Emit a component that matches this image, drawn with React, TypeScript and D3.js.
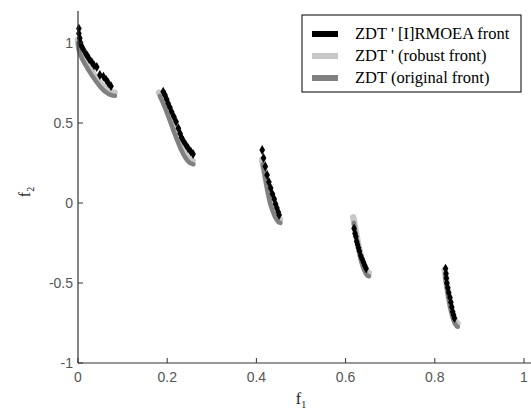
import * as d3 from "d3";

const W = 531;
const H = 416;

const xTicks = [0, 0.2, 0.4, 0.6, 0.8, 1];
const yTicks = [-1, -0.5, 0, 0.5, 1];
const xTickLabels = ["0", "0.2", "0.4", "0.6", "0.8", "1"];
const yTickLabels = ["-1", "-0.5", "0", "0.5", "1"];

const legendLabels = ["ZDT ' [I]RMOEA front", "ZDT ' (robust front)", "ZDT (original front)"];
const legendColors = ["#000000", "#c8c8c8", "#808080"];

type Pt = [number, number];

// ZDT original front, one list per disconnected piece
const originalFront: Pt[][] = [
  [[0, 1], [0.002, 0.955], [0.005, 0.928], [0.01, 0.897], [0.015, 0.871], [0.02, 0.847], [0.03, 0.802], [0.04, 0.762], [0.05, 0.726], [0.06, 0.698], [0.07, 0.679], [0.077, 0.672], [0.083, 0.67]],
  [[0.1832, 0.669], [0.186, 0.654], [0.191, 0.623], [0.196, 0.589], [0.201, 0.553], [0.206, 0.515], [0.211, 0.477], [0.216, 0.439], [0.221, 0.402], [0.226, 0.367], [0.231, 0.334], [0.236, 0.306], [0.241, 0.282], [0.246, 0.263], [0.251, 0.25], [0.2588, 0.242]],
  [[0.4143, 0.242], [0.419, 0.167], [0.423, 0.105], [0.427, 0.048], [0.431, -0.004], [0.436, -0.047], [0.441, -0.082], [0.446, -0.107], [0.45, -0.121], [0.4539, -0.124]],
  [[0.6184, -0.124], [0.622, -0.185], [0.626, -0.248], [0.63, -0.303], [0.635, -0.363], [0.64, -0.409], [0.645, -0.44], [0.65, -0.456], [0.6525, -0.458]],
  [[0.8233, -0.458], [0.826, -0.511], [0.83, -0.583], [0.835, -0.658], [0.84, -0.715], [0.845, -0.754], [0.85, -0.772], [0.8518, -0.773]],
];

// ZDT' robust front
const robustFront: Pt[][] = [
  [[0, 1.02], [0.002, 0.975], [0.005, 0.948], [0.01, 0.917], [0.015, 0.89], [0.02, 0.867], [0.03, 0.822], [0.04, 0.782], [0.05, 0.746], [0.06, 0.718], [0.07, 0.699], [0.077, 0.692], [0.082, 0.689]],
  [[0.182, 0.69], [0.186, 0.674], [0.191, 0.643], [0.196, 0.609], [0.201, 0.573], [0.206, 0.535], [0.211, 0.497], [0.216, 0.459], [0.221, 0.422], [0.226, 0.387], [0.231, 0.354], [0.236, 0.326], [0.241, 0.302], [0.246, 0.283], [0.251, 0.27], [0.257, 0.263]],
  [[0.413, 0.27], [0.419, 0.187], [0.423, 0.125], [0.427, 0.068], [0.431, 0.016], [0.436, -0.027], [0.441, -0.062], [0.446, -0.087], [0.45, -0.101], [0.453, -0.104]],
  [[0.617, -0.09], [0.6184, -0.104], [0.622, -0.165], [0.626, -0.228], [0.63, -0.283], [0.635, -0.343], [0.64, -0.389], [0.645, -0.42], [0.65, -0.436], [0.652, -0.438]],
  [[0.822, -0.42], [0.8233, -0.438], [0.826, -0.491], [0.83, -0.563], [0.835, -0.638], [0.84, -0.695], [0.845, -0.734], [0.85, -0.752], [0.851, -0.753]],
];

// ZDT' [I]RMOEA solutions
const rmoeaFront: Pt[] = [
  [0.002, 1.09], [0.002, 1.06], [0.004, 1.03], [0.006, 1.0], [0.008, 0.98], [0.012, 0.96], [0.018, 0.93], [0.021, 0.92], [0.025, 0.9], [0.031, 0.88], [0.036, 0.86], [0.042, 0.85], [0.049, 0.8], [0.057, 0.79], [0.063, 0.77], [0.068, 0.75], [0.074, 0.73],
  [0.191, 0.696], [0.195, 0.675], [0.199, 0.648], [0.202, 0.623], [0.206, 0.598], [0.21, 0.57], [0.215, 0.539], [0.22, 0.508], [0.225, 0.467], [0.229, 0.435], [0.232, 0.41], [0.236, 0.389], [0.242, 0.363], [0.247, 0.342], [0.253, 0.321], [0.258, 0.306],
  [0.413, 0.331], [0.416, 0.281], [0.42, 0.228], [0.424, 0.175], [0.428, 0.131], [0.432, 0.094], [0.436, 0.056], [0.44, 0.025], [0.443, -0.006], [0.446, -0.031], [0.449, -0.056], [0.451, -0.075],
  [0.619, -0.16], [0.621, -0.19], [0.623, -0.21], [0.625, -0.24], [0.627, -0.26], [0.629, -0.28], [0.631, -0.3], [0.634, -0.33], [0.637, -0.35], [0.64, -0.37], [0.643, -0.39], [0.646, -0.41],
  [0.824, -0.41], [0.825, -0.44], [0.826, -0.47], [0.827, -0.5], [0.829, -0.53], [0.831, -0.56], [0.834, -0.59], [0.836, -0.62], [0.838, -0.65], [0.84, -0.68], [0.842, -0.7], [0.844, -0.72],
];

export default function App() {
  const x = d3.scaleLinear([0, 1], [78, 524]);
  const y = d3.scaleLinear([-1, 1.2], [363, 11]);
  const line = d3
    .line<Pt>()
    .x((d) => x(d[0]))
    .y((d) => y(d[1]));
  const diamond = d3.symbol(d3.symbolDiamond, 28)();
  const axisColor = "#333";
  const tickFont = "'Liberation Sans', Arial, sans-serif";
  const serif = "'Liberation Serif', 'Times New Roman', serif";

  return (
    <svg width={W} height={H} style={{ position: "absolute", left: 0, top: 0, background: "#fff" }}>
      {robustFront.map((seg, i) => (
        <path key={"r" + i} d={line(seg) ?? ""} fill="none" stroke={legendColors[1]} strokeWidth={6.5} strokeLinecap="round" strokeLinejoin="round" />
      ))}
      {originalFront.map((seg, i) => (
        <path key={"o" + i} d={line(seg) ?? ""} fill="none" stroke={legendColors[2]} strokeWidth={4.5} strokeLinecap="round" strokeLinejoin="round" />
      ))}
      {rmoeaFront.map((d, i) => (
        <path key={"b" + i} d={diamond ?? ""} transform={`translate(${x(d[0])},${y(d[1])})`} fill="#000" />
      ))}

      {/* axes */}
      <line x1={x(0)} x2={W} y1={y(-1)} y2={y(-1)} stroke={axisColor} strokeWidth={1.2} />
      <line x1={x(0)} x2={x(0)} y1={y(-1)} y2={y(1.2)} stroke={axisColor} strokeWidth={1.2} />
      {xTicks.map((t, i) => (
        <g key={"xt" + i}>
          <line x1={x(t)} x2={x(t)} y1={y(-1)} y2={y(-1) - 5} stroke={axisColor} />
          <text x={x(t)} y={y(-1) + 19} textAnchor="middle" fontFamily={tickFont} fontSize={14} fill="#555">
            {xTickLabels[i]}
          </text>
        </g>
      ))}
      {yTicks.map((t, i) => (
        <g key={"yt" + i}>
          <line x1={x(0)} x2={x(0) + 5} y1={y(t)} y2={y(t)} stroke={axisColor} />
          <text x={x(0) - 5} y={y(t) + 5} textAnchor="end" fontFamily={tickFont} fontSize={14} fill="#555">
            {yTickLabels[i]}
          </text>
        </g>
      ))}

      {/* axis labels */}
      <text x={301} y={404} textAnchor="middle" fontFamily={serif} fontSize={16} fill="#222">
        f<tspan fontSize={10} dy={4}>1</tspan>
      </text>
      <text transform={`translate(30,192) rotate(-90)`} textAnchor="middle" fontFamily={serif} fontSize={16} fill="#222">
        f<tspan fontSize={10} dy={4}>2</tspan>
      </text>

      {/* legend */}
      <rect x={302} y={15} width={219} height={77} fill="#fff" stroke="#000" strokeWidth={1} />
      {legendLabels.map((lab, i) => (
        <g key={"lg" + i} transform={`translate(0,${34 + i * 22})`}>
          <rect x={312} y={-3} width={26} height={6} fill={legendColors[i]} />
          <text x={355} y={5} fontFamily={serif} fontSize={16.5} fill="#000">
            {lab}
          </text>
        </g>
      ))}
    </svg>
  );
}
